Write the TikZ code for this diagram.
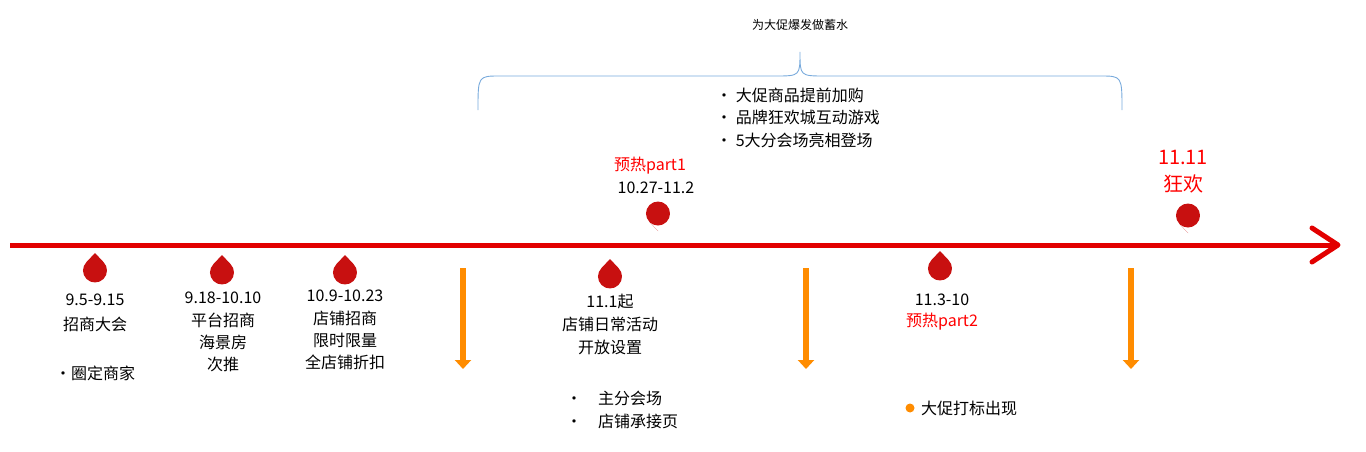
\documentclass[tikz,border=0pt]{standalone}
\usepackage{fontspec}
\setmainfont{Noto Sans CJK SC}
\usetikzlibrary{arrows.meta}
\definecolor{axisred}{RGB}{226,0,0}
\definecolor{dropred}{RGB}{200,16,16}
\definecolor{orng}{RGB}{255,140,0}
\definecolor{brc}{RGB}{120,170,220}
\tikzset{
  lbl/.style={font=\fontsize{16}{19}\selectfont, inner sep=0pt, anchor=center},
  rlbl/.style={lbl, text=red},
  dropup/.pic={\fill[dropred] (0,-13) -- (-8.5,-4) arc[start angle=225,end angle=-45,radius=12] -- cycle;},
  dropdn/.pic={\fill[dropred] (0,13) -- (-8.5,4) arc[start angle=135,end angle=-225,radius=12] -- cycle;},
  darrow/.style={orng, line width=6pt, -{Triangle[width=16pt,length=9pt]}}
}
\begin{document}
\begin{tikzpicture}[x=1pt,y=-1pt]
\useasboundingbox (0,0) rectangle (1366,452);
% axis
\coordinate (a0) at (10,245); \coordinate (a1) at (1338,245);
\draw[axisred, line width=5pt] (a0) -- (a1);
\draw[axisred, line width=5pt, line cap=round, line join=round] (1312,228) -- (a1) -- (1312,262);
% drops
\pic at (95,266) {dropup};
\pic at (222,268) {dropup};
\pic at (345,268) {dropup};
\pic at (610,272) {dropup};
\pic at (940,264) {dropup};
\pic at (658,218) {dropdn};
\pic at (1188,220) {dropdn};
% orange arrows
\foreach \x/\n in {463/o1,806/o2,1131/o3}{
  \coordinate (\n s) at (\x,268); \coordinate (\n e) at (\x,369);
  \draw[darrow] (\n s) -- (\n e);
}
% labels
\node[lbl] (t1a) at (95,300) {9.5-9.15};
\node[lbl] (t1b) at (95,324) {招商大会};
\node[lbl] (t1c) at (95,373) {·圈定商家};
\node[lbl] (t2a) at (223,298) {9.18-10.10};
\node[lbl] (t2b) at (223,320) {平台招商};
\node[lbl] (t2c) at (223,342) {海景房};
\node[lbl] (t2d) at (223,364) {次推};
\node[lbl] (t3a) at (345,296) {10.9-10.23};
\node[lbl] (t3b) at (345,318) {店铺招商};
\node[lbl] (t3c) at (345,340) {限时限量};
\node[lbl] (t3d) at (345,362) {全店铺折扣};
\node[lbl] (t4a) at (610,301) {11.1起};
\node[lbl] (t4b) at (610,324) {店铺日常活动};
\node[lbl] (t4c) at (610,347) {开放设置};
\node[lbl, anchor=west] (t4d) at (566,398) {•\hspace{16pt}主分会场};
\node[lbl, anchor=west] (t4e) at (566,421) {•\hspace{16pt}店铺承接页};
\node[lbl] (t5a) at (942,300) {11.3-10};
\node[rlbl] (t5b) at (942,322) {预热part2};
\fill[orng] (910,408) circle (4.5) node (dot) {};
\node[lbl, anchor=west] (t5c) at (921,408) {大促打标出现};
\node[rlbl] (p1a) at (650,166) {预热part1};
\node[lbl] (p1b) at (656,188) {10.27-11.2};
\node[rlbl, font=\fontsize{20}{23}\selectfont] (h1) at (1183,157) {11.11};
\node[rlbl, font=\fontsize{20}{23}\selectfont] (h2) at (1183,184) {狂欢};
% brace
\coordinate (b0) at (478,110); \coordinate (b1) at (1122,110); \coordinate (bt) at (800,52);
\draw[brc, line width=0.9pt] (b0) .. controls (478,76) .. (500,76) -- (775,76) .. controls (800,76) .. (bt)
   .. controls (800,76) .. (825,76) -- (1100,76) .. controls (1122,76) .. (b1);
\node[lbl, font=\fontsize{12}{14}\selectfont] (top) at (800,25) {为大促爆发做蓄水};
\node[lbl, anchor=west] (g1) at (716,95) {· 大促商品提前加购};
\node[lbl, anchor=west] (g2) at (716,117) {· 品牌狂欢城互动游戏};
\node[lbl, anchor=west] (g3) at (716,140) {· 5大分会场亮相登场};
\end{tikzpicture}
\end{document}
